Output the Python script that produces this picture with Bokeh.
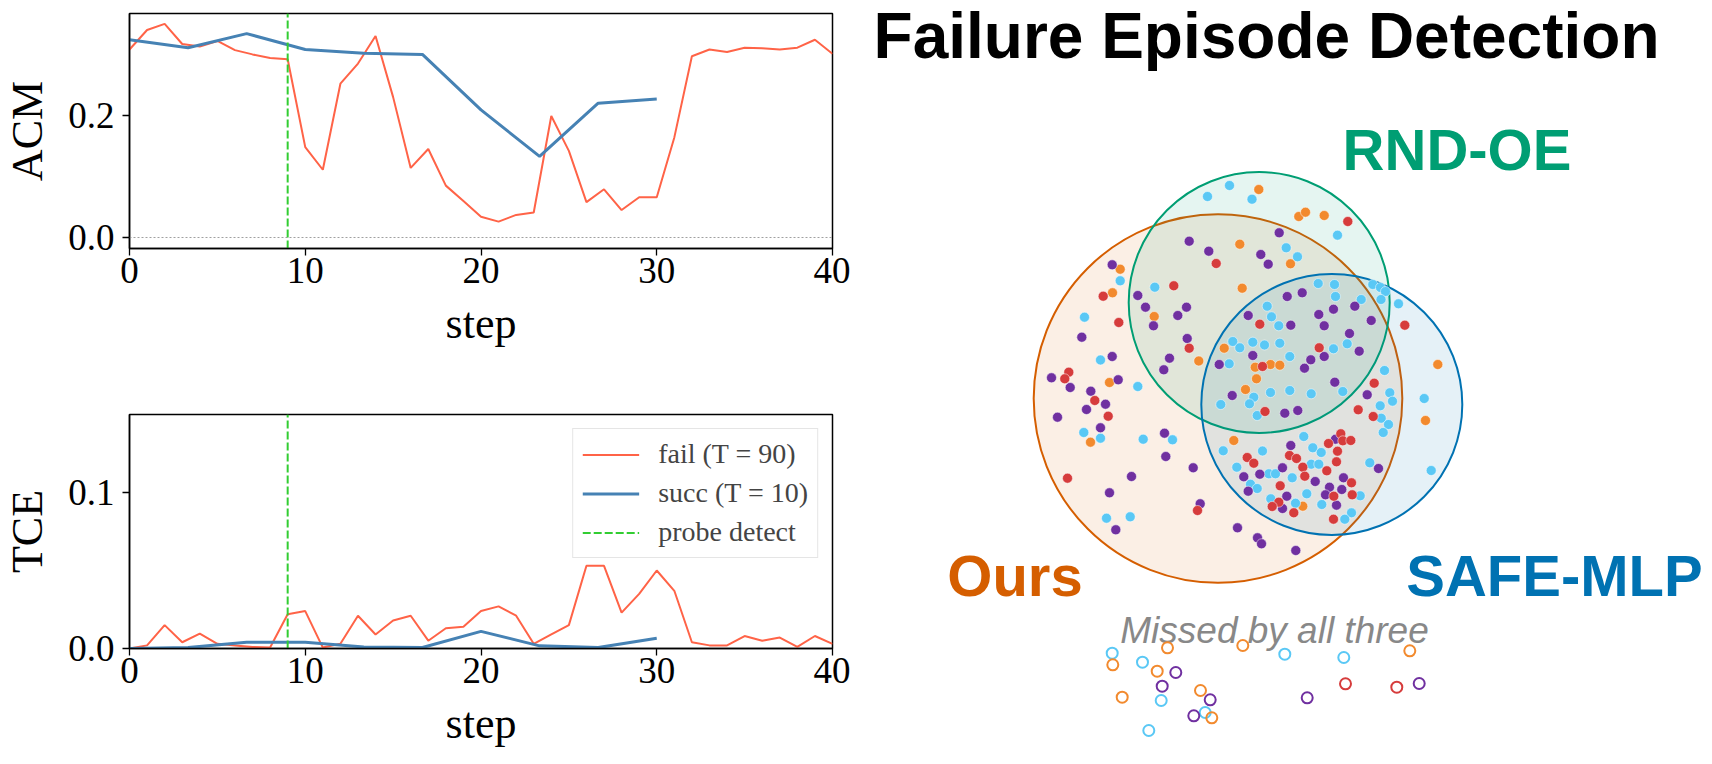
from bokeh.plotting import figure
from bokeh.layouts import row, column
from bokeh.models import Range1d, FixedTicker, PrintfTickFormatter, Span, Legend, LegendItem
from bokeh.core.properties import value
from bokeh.embed import file_html
from bokeh.resources import INLINE

# ---------------- data: left panels ----------------
steps_fail = list(range(41))
acm_fail = [0.308, 0.340, 0.350, 0.317, 0.313, 0.322, 0.307, 0.300, 0.294, 0.292,
            0.148, 0.111, 0.252, 0.285, 0.330, 0.230, 0.114, 0.145, 0.085, 0.060,
            0.034, 0.026, 0.037, 0.041, 0.199, 0.142, 0.058, 0.079, 0.045, 0.066,
            0.066, 0.164, 0.297, 0.308, 0.304, 0.311, 0.310, 0.308, 0.311, 0.324, 0.301]
tce_fail = [0.000, 0.002, 0.015, 0.004, 0.0096, 0.003, 0.002, 0.001, 0.0006, 0.022,
            0.024, 0.0006, 0.003, 0.021, 0.009, 0.018, 0.021, 0.005, 0.013, 0.014,
            0.024, 0.027, 0.021, 0.003, 0.009, 0.015, 0.053, 0.053, 0.023, 0.035,
            0.050, 0.037, 0.004, 0.002, 0.002, 0.008, 0.005, 0.007, 0.001, 0.008, 0.003]
steps_succ = [0, 3.333, 6.667, 10, 13.333, 16.667, 20, 23.333, 26.667, 30]
acm_succ = [0.324, 0.311, 0.334, 0.308, 0.302, 0.300, 0.209, 0.133, 0.220, 0.227]
tce_succ = [0.0, 0.0006, 0.004, 0.004, 0.001, 0.0006, 0.011, 0.0017, 0.0006, 0.0066]
probe_step = 9
x_ticks = [0, 10, 20, 30, 40]
acm_ticks = [0.0, 0.2]
tce_ticks = [0.0, 0.1]
ACM_YLIM = (-0.018, 0.367)
TCE_YLIM = (0.0, 0.15)

# ---------------- data: Venn panel ----------------
venn_names = ["Ours", "RND-OE", "SAFE-MLP"]
venn_cx = [1217.5, 1258.7, 1331.3]
venn_cy = [398.0, 302.0, 404.0]
venn_r = [184.3, 130.5, 130.5]
venn_colors = ["#D55E00", "#009E73", "#0072B2"]

blue_x = [1207, 1229, 1251.5, 1337, 1285.7, 1297, 1317.7, 1334, 1372.3, 1380, 1385, 1380.5,
          1335, 1360.7, 1398, 1266.7, 1271, 1278.3, 1279.3, 1346.7, 1333, 1289.3, 1384, 1289.3,
          1270, 1310.7, 1342.3, 1389.3, 1392, 1423.7, 1379.7, 1380.7, 1388, 1382.7, 1303.3,
          1312.3, 1320.7, 1310.7, 1318.3, 1369.3, 1430.7, 1268.3, 1275, 1291.7, 1306.3, 1359.7,
          1270.3, 1295, 1321.3, 1351, 1344.3, 1154.3, 1119.7, 1084, 1232.3, 1239.3, 1252.3, 1264,
          1100, 1228.7, 1137.3, 1253.3, 1249, 1220.3, 1256.7, 1083.3, 1100, 1142.7, 1172,
          1222.7, 1262, 1236.3, 1250, 1256.7, 1106, 1129.7]
blue_y = [196, 185, 198.7, 234.7, 247.3, 256.3, 283, 284, 284, 287, 291, 299,
          296, 299, 303.3, 305.7, 316.3, 325.3, 342.7, 343.3, 348.3, 356, 370, 390,
          392, 393.3, 391, 392.3, 400.7, 398, 405.3, 417.7, 424, 432, 436,
          447.3, 452, 463.7, 463.7, 462.3, 470, 473.3, 473.3, 477.3, 493.3, 495.3,
          498.3, 502.7, 504, 512.3, 518.7, 286.7, 280.3, 316.7, 341, 347.3, 341.7, 344.5,
          359.5, 363.3, 386, 396.7, 403.3, 404, 415, 432, 437.7, 438.7, 439.3,
          450.3, 450.5, 466.7, 483.7, 488, 517.7, 516.3]
purple_x = [1188.7, 1208.3, 1260.3, 1111.7, 1137.3, 1145, 1186, 1177.3, 1153, 1081.3, 1247.7,
            1186.7, 1252.3, 1111.7, 1169, 1278.7, 1267.7, 1286.7, 1301.7, 1333, 1354.3, 1318.3,
            1290.3, 1323.7, 1370.7, 1349, 1358.7, 1310.3, 1323.7, 1163.3, 1218.7, 1051, 1069.7,
            1117.7, 1090.3, 1105, 1086, 1057, 1231.7, 1100, 1164, 1165.3, 1192.7, 1243.3, 1259.3,
            1247.7, 1131, 1109, 1199.7, 1115.3, 1237, 1257, 1261, 1304, 1334.3, 1366.7, 1284.3,
            1297.3, 1335, 1290.3, 1378, 1282, 1314.7, 1343, 1329, 1341.3, 1325, 1286.3, 1282,
            1336, 1295.3]
purple_y = [240.7, 250.7, 254, 264.3, 295, 306.7, 306.7, 315, 325.3, 336.7, 315,
            338, 355, 356, 357.7, 232.3, 263.7, 296, 292.3, 308.7, 305.7, 314,
            324.7, 325.3, 320, 333, 350.7, 359.3, 356, 369.3, 364, 377.3, 387,
            379.3, 390.7, 403.7, 409, 416.7, 395, 427.3, 432.7, 456, 467.3, 476.3, 473.7,
            490.7, 476, 492.3, 503.3, 529.3, 527.3, 537.3, 543.3, 367.7, 381.7, 394.3, 412.7,
            410, 438.7, 445, 468, 467.3, 481, 477.3, 486.7, 489, 494.3, 495.7, 508,
            504.7, 550]
red_x = [1215.7, 1102.7, 1173.3, 1118.3, 1259.3, 1188.7, 1347.3, 1404.3, 1318.7, 1262, 1068.3,
         1064.3, 1094.3, 1107.7, 1264.5, 1246.7, 1253.3, 1067, 1197, 1373.7, 1357.7, 1372.7,
         1340.3, 1342.3, 1350.3, 1328, 1337, 1289, 1296, 1336, 1302.3, 1326.3, 1304.3, 1351,
         1279.7, 1333.3, 1351.7, 1278.3, 1271.7, 1293.3, 1333]
red_y = [263, 295.7, 285.3, 322, 323.7, 347.7, 221, 324.7, 347.3, 366, 371.7,
         378.3, 400, 415.7, 411, 457, 462.7, 477.7, 510, 382.7, 409.3, 416,
         433.3, 440.3, 440, 443, 450.7, 455, 458, 461.3, 466.7, 470.3, 475.7, 482.3,
         485.3, 495.7, 494.3, 501.7, 506, 512.3, 518.7]
orange_x = [1258.3, 1239.3, 1119.7, 1112, 1241.7, 1153.7, 1223.7, 1198.3, 1298.3, 1305, 1323.7,
            1290, 1254.7, 1109, 1256, 1245, 1090, 1233.3, 1437.3, 1270, 1279.3, 1425, 1302.3]
orange_y = [189, 243.7, 268.7, 292.3, 287.7, 316, 347.7, 360.5, 216, 211.7, 215,
            263.3, 366.7, 382, 378.3, 389, 441.7, 440, 364, 364, 364.7, 420, 505.7]

missed_blue_x = [1111.7, 1142, 1160.7, 1204.7, 1148.3, 1284.3, 1343.3]
missed_blue_y = [652.7, 661.7, 700, 712, 730, 653.7, 657]
missed_orange_x = [1112.3, 1167, 1156.7, 1121.7, 1200, 1211.3, 1242.3, 1409.3]
missed_orange_y = [664.3, 647.3, 670.7, 696.7, 690, 717.3, 645, 650.3]
missed_purple_x = [1175.3, 1161.7, 1209.7, 1193.3, 1306.7, 1418.7]
missed_purple_y = [672, 685.7, 699.3, 715.3, 697.3, 683]
missed_red_x = [1345, 1396.3]
missed_red_y = [683.3, 686.7]

DOT_BLUE, DOT_PURPLE, DOT_RED, DOT_ORANGE = "#5AC8F5", "#7030A0", "#D63C3C", "#F28A2E"
FAIL_C, SUCC_C, PROBE_C = "#FF6347", "#4682B4", "#32CD32"
SERIF = "Liberation Serif"
SANS = "Liberation Sans"


def style(p, yticks, ylabel):
    p.xgrid.visible = False
    p.ygrid.visible = False
    p.outline_line_color = "black"
    p.outline_line_width = 1.5
    p.background_fill_color = "white"
    p.border_fill_color = "white"
    for ax in (p.xaxis[0], p.yaxis[0]):
        ax.major_label_text_font = SERIF
        ax.major_label_text_font_size = "37px"
        ax.major_label_text_color = "black"
        ax.axis_label_text_font = SERIF
        ax.axis_label_text_font_size = "44px"
        ax.axis_label_text_font_style = "normal"
        ax.axis_label_text_color = "black"
        ax.major_tick_out = 7
        ax.major_tick_in = 0
        ax.minor_tick_out = 0
        ax.minor_tick_in = 0
        ax.major_tick_line_width = 1.3
        ax.axis_line_width = 1.5
    p.xaxis.ticker = FixedTicker(ticks=x_ticks)
    p.yaxis.ticker = FixedTicker(ticks=yticks)
    p.yaxis.formatter = PrintfTickFormatter(format="%.1f")
    p.xaxis.axis_label = "step"
    p.yaxis.axis_label = ylabel
    p.xaxis.major_label_standoff = 2
    p.yaxis.major_label_standoff = 8
    p.xaxis.axis_label_standoff = 13
    p.yaxis.axis_label_standoff = 13


# ---------------- top: ACM ----------------
p1 = figure(width=850, height=400, x_range=Range1d(0, 40), y_range=Range1d(*ACM_YLIM),
            output_backend="svg", toolbar_location=None,
            min_border_left=127, min_border_right=18, min_border_top=13, min_border_bottom=152)
style(p1, acm_ticks, "ACM")
p1.add_layout(Span(location=0, dimension="width", line_color="#888888", line_width=0.8,
                   line_dash="2 2"))
p1.line(steps_fail, acm_fail, line_color=FAIL_C, line_width=2)
p1.line(steps_succ, acm_succ, line_color=SUCC_C, line_width=3)
p1.line([probe_step, probe_step], list(ACM_YLIM), line_color=PROBE_C, line_width=2,
        line_dash="8 3")

# ---------------- bottom: TCE ----------------
p2 = figure(width=850, height=364, x_range=Range1d(0, 40), y_range=Range1d(*TCE_YLIM),
            output_backend="svg", toolbar_location=None,
            min_border_left=127, min_border_right=18, min_border_top=14, min_border_bottom=116)
style(p2, tce_ticks, "TCE")
r_fail = p2.line(steps_fail, tce_fail, line_color=FAIL_C, line_width=2)
r_succ = p2.line(steps_succ, tce_succ, line_color=SUCC_C, line_width=3)
r_probe = p2.line([probe_step, probe_step], list(TCE_YLIM), line_color=PROBE_C, line_width=2,
                  line_dash="8 3")
legend = Legend(items=[LegendItem(label="fail (T = 90)", renderers=[r_fail]),
                       LegendItem(label="succ (T = 10)", renderers=[r_succ]),
                       LegendItem(label="probe detect", renderers=[r_probe])],
                location="top_right")
legend.label_text_font = SERIF
legend.label_text_font_size = "28px"
legend.glyph_width = 57
legend.glyph_height = 31
legend.label_height = 31
legend.label_standoff = 19
legend.spacing = 7
legend.padding = 9
legend.margin = 14
legend.border_line_color = "#cccccc"
legend.border_line_width = 1.5
legend.background_fill_alpha = 0.85
p2.add_layout(legend)

# ---------------- right: Venn ----------------
p3 = figure(width=862, height=764, x_range=Range1d(850, 1712), y_range=Range1d(764, 0),
            output_backend="svg", toolbar_location=None, x_axis_type=None, y_axis_type=None,
            min_border=0)
p3.outline_line_color = None
p3.xgrid.visible = False
p3.ygrid.visible = False
p3.background_fill_color = "white"
p3.border_fill_color = "white"

p3.circle(x=venn_cx, y=venn_cy, radius=venn_r, fill_color=venn_colors, fill_alpha=0.1,
          line_color=venn_colors, line_width=2)
for xs, ys, c in [(orange_x, orange_y, DOT_ORANGE), (blue_x, blue_y, DOT_BLUE),
                  (purple_x, purple_y, DOT_PURPLE), (red_x, red_y, DOT_RED)]:
    p3.scatter(xs, ys, size=10, fill_color=c, line_color="white", line_width=0.5)

p3.text(x=[1266], y=[35], text=["Failure Episode Detection"], text_font=value(SANS),
        text_font_style="bold", text_font_size="64px", text_align="center",
        text_baseline="alphabetic", text_color="black")
p3.text(x=[1456.5, 1014.5, 1554], y=[149, 575, 575], text=["RND-OE", "Ours", "SAFE-MLP"],
        text_font=value(SANS), text_font_style="bold", text_font_size="58px",
        text_align="center", text_baseline="alphabetic",
        text_color=[venn_colors[1], venn_colors[0], venn_colors[2]])
p3.text(x=[1274], y=[630], text=["Missed by all three"], text_font=value(SANS),
        text_font_style="italic", text_font_size="37px", text_align="center",
        text_baseline="alphabetic", text_color="#888888")
for xs, ys, c in [(missed_blue_x, missed_blue_y, DOT_BLUE), (missed_orange_x, missed_orange_y, DOT_ORANGE),
                  (missed_purple_x, missed_purple_y, DOT_PURPLE), (missed_red_x, missed_red_y, DOT_RED)]:
    p3.scatter(xs, ys, size=11, fill_color=None, line_color=c, line_width=2)

layout = row(column(p1, p2), p3)
open("out.html", "w").write(file_html(layout, INLINE))
